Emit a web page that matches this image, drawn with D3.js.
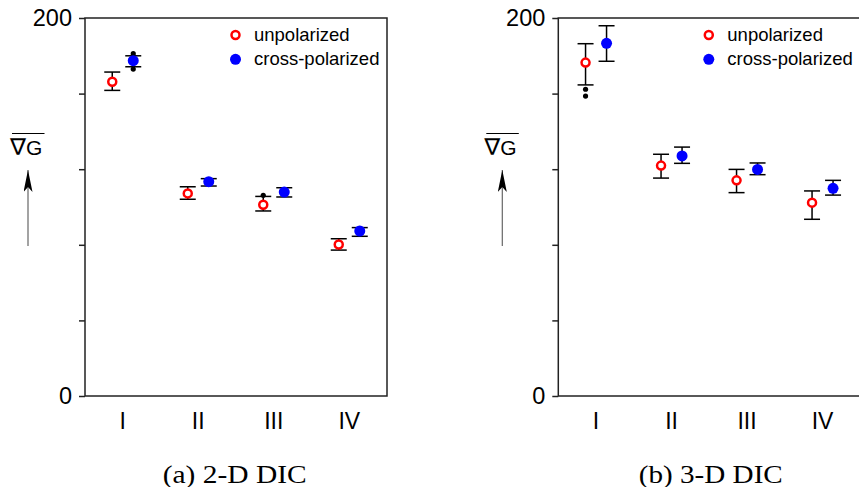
<!DOCTYPE html>
<html>
<head>
<meta charset="utf-8">
<script src="https://cdn.jsdelivr.net/npm/d3@7"></script>
<style>
  body { margin: 0; background: #fff; }
  svg { display: block; }
</style>
</head>
<body>
<svg width="859" height="487"></svg>
<script>
// categories and tick values
const categories = ["I", "II", "III", "IV"];
const yTicks = [0, 40, 80, 120, 160, 200];

// (a) 2-D DIC
const unpol2d   = [166.3, 107.2, 101.2, 80.2];
const unpol2dLo = [161.7, 104.1, 97.9, 77.2];
const unpol2dHi = [171.4, 110.7, 105.6, 83.2];
const cross2d   = [177.4, 113.4, 107.9, 87.3];
const cross2dLo = [174.2, 111.1, 105.3, 84.5];
const cross2dHi = [180.0, 115.0, 110.2, 89.1];
const outliers2d = [
  { cat: "I", series: "cross", v: 181.1 },
  { cat: "I", series: "cross", v: 173.0 },
  { cat: "III", series: "unpol", v: 106.2 }
];

// (b) 3-D DIC
const unpol3d   = [176.4, 121.9, 114.1, 102.3];
const unpol3dLo = [164.6, 115.3, 107.6, 93.5];
const unpol3dHi = [186.4, 127.9, 119.9, 108.5];
const cross3d   = [186.6, 127.0, 119.9, 109.9];
const cross3dLo = [177.1, 123.1, 117.1, 106.3];
const cross3dHi = [195.9, 131.7, 123.3, 114.1];
const outliers3d = [
  { cat: "I", series: "unpol", v: 162.3 },
  { cat: "I", series: "unpol", v: 158.7 }
];

const sans = "Liberation Sans, Arial, Helvetica, sans-serif";

const svg = d3.select("svg");
svg.append("defs").append("marker")
    .attr("id", "arrowhead")
    .attr("viewBox", "0 0 22 9")
    .attr("preserveAspectRatio", "none")
    .attr("refX", 22).attr("refY", 4.5)
    .attr("markerWidth", 22).attr("markerHeight", 9)
    .attr("markerUnits", "userSpaceOnUse")
    .attr("orient", "auto")
  .append("path")
    .attr("d", "M0,0 L22,4.5 L0,9 L5,4.5 Z")
    .attr("fill", "#000");

const panel = (opts) => {
  const { left, labelX, caption, captionX, unpol, unpolLo, unpolHi, cross, crossLo, crossHi, outliers } = opts;
  const top = 18, bottom = 396, width = 302;
  const offset = 10.5;

  const x = d3.scaleBand().domain(categories).range([left, left + width]);
  const y = d3.scaleLinear().domain([0, 200]).range([bottom, top]);
  const cx = (c, s) => x(c) + x.bandwidth() / 2 + (s === "unpol" ? -offset : offset);

  const g = svg.append("g");

  // frame
  g.append("rect")
      .attr("x", left).attr("y", top)
      .attr("width", width).attr("height", bottom - top)
      .attr("fill", "none")
      .attr("stroke", "#222")
      .attr("stroke-width", 1.5);

  // y axis
  const yAxis = g.append("g")
      .attr("transform", `translate(${left},0)`)
      .call(d3.axisLeft(y).tickValues(yTicks).tickSize(6).tickPadding(7)
        .tickFormat(d => (d === 0 || d === 200) ? d : ""));
  yAxis.select(".domain").remove();
  yAxis.selectAll(".tick line").attr("stroke", "#222").attr("stroke-width", 1.5);
  yAxis.selectAll("text")
      .attr("font-family", sans)
      .attr("font-size", 23.5)
      .attr("fill", "#000");

  // x axis
  const xAxis = g.append("g")
      .attr("transform", `translate(0,${bottom})`)
      .call(d3.axisBottom(x).tickSize(0).tickPadding(17));
  xAxis.select(".domain").remove();
  xAxis.selectAll("text")
      .attr("font-family", sans)
      .attr("font-size", 23)
      .attr("fill", "#000");

  // series
  const series = [
    { key: "unpol", v: unpol, lo: unpolLo, hi: unpolHi },
    { key: "cross", v: cross, lo: crossLo, hi: crossHi }
  ];
  const rows = series.flatMap(s => categories.map((c, i) => ({
    cat: c, key: s.key, v: s.v[i], lo: s.lo[i], hi: s.hi[i]
  })));

  const eb = g.append("g").attr("stroke", "#000").attr("stroke-width", 1.5);
  eb.selectAll("line.v").data(rows).join("line")
      .attr("x1", d => cx(d.cat, d.key)).attr("x2", d => cx(d.cat, d.key))
      .attr("y1", d => y(d.lo)).attr("y2", d => y(d.hi));
  eb.selectAll("line.hi").data(rows).join("line")
      .attr("x1", d => cx(d.cat, d.key) - 8).attr("x2", d => cx(d.cat, d.key) + 8)
      .attr("y1", d => y(d.hi)).attr("y2", d => y(d.hi));
  eb.selectAll("line.lo").data(rows).join("line")
      .attr("x1", d => cx(d.cat, d.key) - 8).attr("x2", d => cx(d.cat, d.key) + 8)
      .attr("y1", d => y(d.lo)).attr("y2", d => y(d.lo));

  g.append("g").selectAll("circle").data(outliers).join("circle")
      .attr("cx", d => cx(d.cat, d.series))
      .attr("cy", d => y(d.v))
      .attr("r", 2.6)
      .attr("fill", "#000");

  g.append("g").selectAll("circle").data(rows).join("circle")
      .attr("cx", d => cx(d.cat, d.key))
      .attr("cy", d => y(d.v))
      .attr("r", d => d.key === "unpol" ? 4 : 5.5)
      .attr("fill", d => d.key === "unpol" ? "#fff" : "#0000ff")
      .attr("stroke", d => d.key === "unpol" ? "#ff0000" : "none")
      .attr("stroke-width", 2.5);

  // legend
  const legend = [
    { key: "unpol", label: "unpolarized" },
    { key: "cross", label: "cross-polarized" }
  ];
  const lg = g.append("g").attr("transform", `translate(${left + 150.5},0)`);
  lg.selectAll("circle").data(legend).join("circle")
      .attr("cx", 0)
      .attr("cy", (d, i) => 35 + i * 24.3)
      .attr("r", d => d.key === "unpol" ? 4 : 5.5)
      .attr("fill", d => d.key === "unpol" ? "#fff" : "#0000ff")
      .attr("stroke", d => d.key === "unpol" ? "#ff0000" : "none")
      .attr("stroke-width", 2.5);
  lg.selectAll("text").data(legend).join("text")
      .attr("x", 18.5)
      .attr("y", (d, i) => 41 + i * 24.3)
      .attr("font-family", sans)
      .attr("font-size", 18.5)
      .attr("fill", "#000")
      .text(d => d.label);

  // y label with overline and arrow
  const lab = g.append("text")
      .attr("x", labelX - 18)
      .attr("y", 155)
      .attr("font-family", sans)
      .attr("fill", "#000");
  lab.append("tspan")
      .attr("font-family", "DejaVu Sans, sans-serif")
      .attr("font-size", 23)
      .attr("textLength", 16)
      .attr("lengthAdjust", "spacingAndGlyphs")
      .text("∇");
  lab.append("tspan")
      .attr("x", labelX - 2)
      .attr("font-size", 21)
      .text("G");
  g.append("line")
      .attr("x1", labelX - 16).attr("x2", labelX + 16.5)
      .attr("y1", 133.5).attr("y2", 133.5)
      .attr("stroke", "#000").attr("stroke-width", 1.2);
  g.append("line")
      .attr("x1", labelX).attr("x2", labelX)
      .attr("y1", 246).attr("y2", 170)
      .attr("stroke", "#666").attr("stroke-width", 1.2)
      .attr("marker-end", "url(#arrowhead)");

  // caption
  g.append("text")
      .attr("x", captionX - 72)
      .attr("y", 482.5)
      .attr("textLength", 144)
      .attr("lengthAdjust", "spacingAndGlyphs")
      .attr("font-family", "Liberation Serif, Times New Roman, serif")
      .attr("font-size", 24.5)
      .attr("fill", "#000")
      .text(caption);
};

panel({
  left: 85, labelX: 28, caption: "(a) 2-D DIC", captionX: 234.7,
  unpol: unpol2d, unpolLo: unpol2dLo, unpolHi: unpol2dHi,
  cross: cross2d, crossLo: cross2dLo, crossHi: cross2dHi,
  outliers: outliers2d
});
panel({
  left: 558.3, labelX: 502.3, caption: "(b) 3-D DIC", captionX: 710.8,
  unpol: unpol3d, unpolLo: unpol3dLo, unpolHi: unpol3dHi,
  cross: cross3d, crossLo: cross3dLo, crossHi: cross3dHi,
  outliers: outliers3d
});
</script>
</body>
</html>
